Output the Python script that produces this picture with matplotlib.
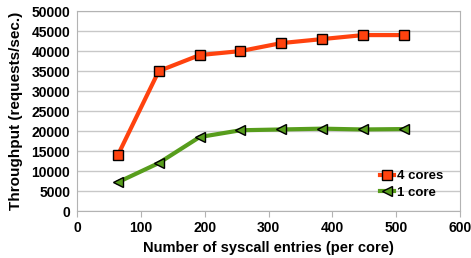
import matplotlib.pyplot as plt

entries = [64, 128, 192, 256, 320, 384, 448, 512]
four_cores = [14000, 35000, 39000, 40000, 42000, 43000, 44000, 44000]
one_core = [7200, 12000, 18500, 20200, 20400, 20600, 20400, 20500]

plt.rcParams['font.family'] = ['Liberation Sans', 'DejaVu Sans']
plt.rcParams['font.weight'] = 'bold'
plt.rcParams['font.size'] = 10

fig = plt.figure(figsize=(4.71, 2.58), dpi=100)
ax = fig.add_axes([0.1635, 0.182, 0.8135, 0.775])

ax.plot(entries, four_cores, color='#FF420E', lw=3, marker='s', ms=7,
        mfc='#FF420E', mec='black', mew=1, label='4 cores', zorder=3)
ax.plot(entries, one_core, color='#579D1C', lw=3, marker='<', ms=7,
        mfc='#579D1C', mec='black', mew=1, label='1 core', zorder=3)

ax.set_xlim(0, 600)
ax.set_ylim(0, 50000)
ax.set_xticks(range(0, 601, 100))
ax.set_yticks(range(0, 50001, 5000))
ax.yaxis.grid(True, color='#c8c8c8', lw=1)
ax.set_axisbelow(True)
for s in ax.spines.values():
    s.set_color('#b3b3b3')
ax.tick_params(axis='x', colors='#b3b3b3', labelcolor='black', length=4)
ax.tick_params(axis='y', length=0, pad=5)

ax.set_xlabel('Number of syscall entries (per core)', fontsize=10.5, fontweight='bold')
ax.set_ylabel('Throughput (requests/sec.)', fontsize=11, fontweight='bold')
ax.xaxis.set_label_coords(0.5, -0.15)
ax.yaxis.set_label_coords(-0.14, 0.5)

ax.legend(loc='lower right', bbox_to_anchor=(0.955, 0.06), frameon=False,
          borderaxespad=0, borderpad=0,
          handlelength=1.1, handletextpad=0.2, labelspacing=0.35, fontsize=9.5)

fig.savefig('out.png')
